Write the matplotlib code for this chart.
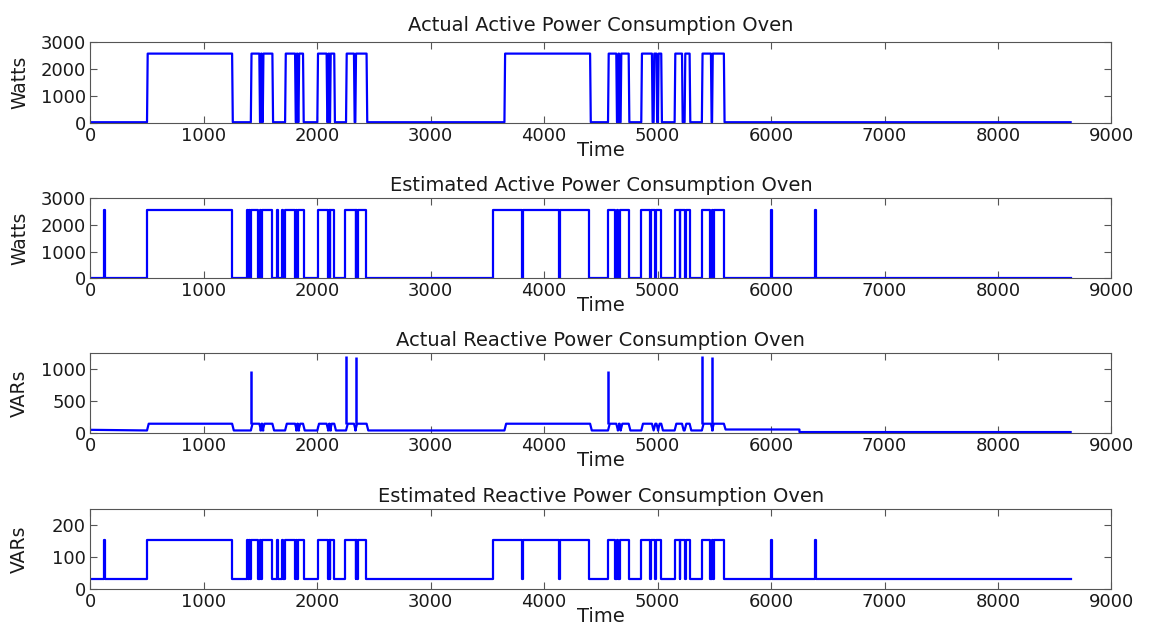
import numpy as np
import matplotlib
matplotlib.use("Agg")
import matplotlib.pyplot as plt

# Sample axis (seconds) and y-axis setups
T_END = 8640
X_TICKS = [0, 1000, 2000, 3000, 4000, 5000, 6000, 7000, 8000, 9000]
TITLES = [
    "Actual Active Power Consumption Oven",
    "Estimated Active Power Consumption Oven",
    "Actual Reactive Power Consumption Oven",
    "Estimated Reactive Power Consumption Oven",
]
Y_LABELS = ["Watts", "Watts", "VARs", "VARs"]
Y_LIMS = [(0, 3000), (0, 3000), (0, 1250), (0, 250)]
Y_TICKS = [[0, 1000, 2000, 3000], [0, 1000, 2000, 3000], [0, 500, 1000], [0, 100, 200]]

# Measured oven ON periods (start, end)
act_start = [500, 1415, 1500, 1520, 1717, 1815, 1835, 2001, 2095, 2113, 2254, 2336,
             3650, 4563, 4650, 4674, 4856, 4965, 5003, 5150, 5238, 5390, 5480]
act_end   = [1250, 1490, 1510, 1605, 1805, 1825, 1875, 2083, 2105, 2150, 2324, 2435,
             4405, 4636, 4660, 4745, 4950, 4990, 5032, 5215, 5282, 5470, 5584]

# Estimated ON periods from the disaggregation
est_start = [120, 500, 1378, 1400, 1415, 1495, 1515, 1650, 1690, 1717, 1812, 1832,
             2003, 2104, 2116, 2249, 2345, 2360, 3549, 3815, 4142, 4563, 4640, 4665,
             4856, 4940, 4985, 5150, 5200, 5248, 5390, 5475, 5500, 5997, 6390]
est_end   = [130, 1250, 1386, 1406, 1482, 1505, 1605, 1657, 1696, 1800, 1820, 1880,
             2098, 2110, 2145, 2340, 2352, 2434, 3805, 4130, 4398, 4628, 4650, 4745,
             4930, 4975, 5032, 5194, 5240, 5282, 5466, 5490, 5584, 6004, 6397]

# Power levels
act_p_on, act_p_off = 2580, 15
est_p_on, est_p_off = 2560, 10
est_q_on, est_q_off = 153, 30
act_q_on = 145
# standby reactive level changes (time, level)
q_base_t = [0, 500, 5590, 6250]
q_base_v = [50, 40, 55, 15]
# turn-on reactive transients
q_spike_t = [1418, 2257, 2339, 4566, 5393, 5483]
q_spike_v = [960, 1200, 1190, 960, 1200, 1190]


def square_wave(starts, ends, high, low, ramp=0.0, base_t=None, base_v=None):
    """Build an on/off polyline from ON intervals."""
    def low_at(t):
        if base_t is None:
            return low
        return base_v[np.searchsorted(base_t, t, side="right") - 1]

    t, y = [0.0], [low_at(0.0)]
    for s, e in zip(starts, ends):
        t += [s, s + ramp, e, e + ramp]
        y += [low_at(s), high, high, low_at(e + ramp)]
    if base_t is not None:
        for bt in base_t[1:]:
            if bt > t[-1]:
                t += [bt, bt]
                y += [low_at(bt - 1), low_at(bt)]
    t.append(T_END)
    y.append(low_at(T_END))
    return np.array(t), np.array(y)


series = [
    square_wave(act_start, act_end, act_p_on, act_p_off, ramp=6),
    square_wave(est_start, est_end, est_p_on, est_p_off),
    square_wave(act_start, act_end, act_q_on, 40, ramp=15,
                base_t=q_base_t, base_v=q_base_v),
    square_wave(est_start, est_end, est_q_on, est_q_off),
]

plt.rcParams["font.family"] = "DejaVu Sans"

fig = plt.figure(figsize=(11.5, 6.42), dpi=100)
fig.patch.set_facecolor("white")

# axes boxes in figure fractions: left, bottom, width, height
boxes = [
    (0.0785, 0.8090, 0.8880, 0.1250),
    (0.0785, 0.5665, 0.8880, 0.1250),
    (0.0785, 0.3255, 0.8880, 0.1250),
    (0.0785, 0.0826, 0.8880, 0.1250),
]

for i, (t, y) in enumerate(series):
    ax = fig.add_axes(boxes[i])
    ax.plot(t, y, color="#0000ff", linewidth=1.6)
    if i == 2:
        ax.vlines(q_spike_t, act_q_on, q_spike_v, color="#0000ff", linewidth=1.8)
    ax.set_xlim(0, 9000)
    ax.set_ylim(*Y_LIMS[i])
    ax.set_xticks(X_TICKS)
    ax.set_yticks(Y_TICKS[i])
    ax.tick_params(direction="in", top=True, right=True, length=5, width=0.8,
                   colors="#555555", labelcolor="#1a1a1a", labelsize=13, pad=3)
    for sp in ax.spines.values():
        sp.set_color("#555555")
        sp.set_linewidth(0.8)
    ax.set_title(TITLES[i], fontsize=14, color="#1a1a1a", pad=8 if i == 0 else 5)
    ax.set_ylabel(Y_LABELS[i], fontsize=13.5, color="#1a1a1a")
    ax.yaxis.set_label_coords(-0.06, 0.5)
    ax.set_xlabel("Time", fontsize=14, color="#1a1a1a", labelpad=-3)

fig.savefig("out.png", dpi=100)
